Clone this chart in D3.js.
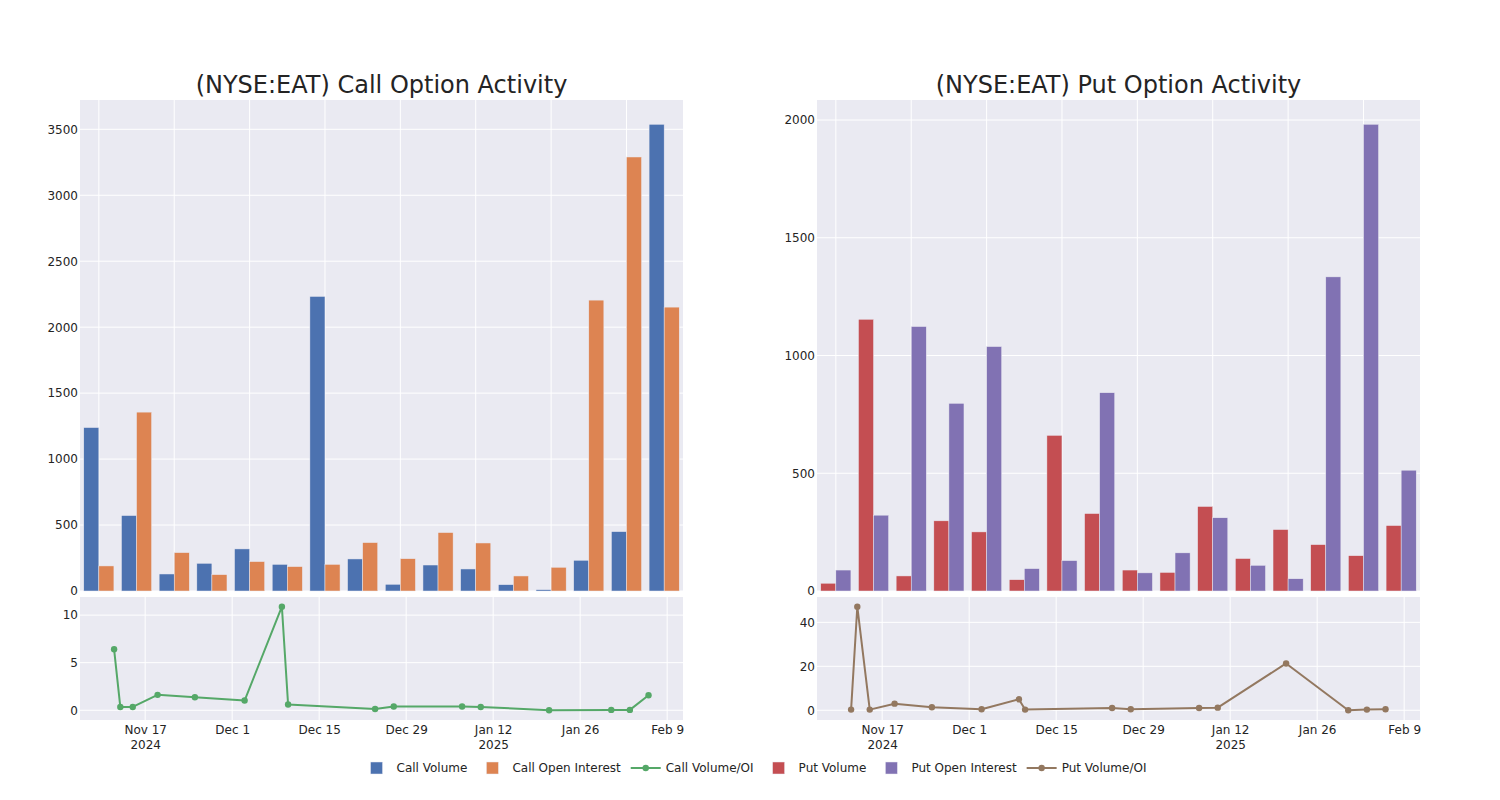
<!DOCTYPE html>
<html>
<head>
<meta charset="utf-8">
<script src="https://cdn.jsdelivr.net/npm/d3@7"></script>
<style>
  html, body { margin: 0; padding: 0; background: #fff; }
  text { font-family: "DejaVu Sans", sans-serif; fill: rgb(36,36,36); }
</style>
</head>
<body>
<svg id="chart" width="1500" height="800"></svg>
<script>
// ---- data ----
const dates = ["2024-11-12","2024-11-13","2024-11-15","2024-11-19","2024-11-25","2024-12-03","2024-12-09","2024-12-10",
               "2024-12-24","2024-12-27","2025-01-07","2025-01-10","2025-01-21","2025-01-31","2025-02-03","2025-02-06"];
const callVolume = [1239, 572, 129, 210, 319, 202, 2233, 243, 51, 197, 167, 48, 10, 233, 450, 3538];
const callOpenInterest = [190, 1356, 291, 124, 223, 185, 202, 367, 245, 443, 364, 114, 180, 2205, 3290, 2152];
const callVolOI = [6.41, 0.35, 0.35, 1.62, 1.37, 1.02, 10.88, 0.6, 0.14, 0.39, 0.39, 0.35, 0.0, 0.04, 0.04, 1.58];
const putVolume = [33, 1154, 64, 298, 251, 48, 661, 329, 89, 79, 359, 138, 261, 197, 150, 278];
const putOpenInterest = [89, 322, 1123, 797, 1038, 95, 129, 842, 77, 162, 311, 109, 52, 1334, 1982, 513];
const putVolOI = [0.3, 47.1, 0.3, 3.0, 1.4, 0.46, 5.0, 0.3, 1.06, 0.46, 1.06, 1.2, 21.3, 0.0, 0.3, 0.46];
const dateTicks = ["2024-11-17","2024-12-01","2024-12-15","2024-12-29","2025-01-12","2025-01-26","2025-02-09"];
const dateTickLabels = [["Nov 17","2024"],["Dec 1"],["Dec 15"],["Dec 29"],["Jan 12","2025"],["Jan 26"],["Feb 9"]];
const callBarTicks = [0, 500, 1000, 1500, 2000, 2500, 3000, 3500];
const putBarTicks = [0, 500, 1000, 1500, 2000];
const callLineTicks = [0, 5, 10];
const putLineTicks = [0, 20, 40];
const titles = ["(NYSE:EAT) Call Option Activity", "(NYSE:EAT) Put Option Activity"];
const legendNames = ["Call Volume","Call Open Interest","Call Volume/OI","Put Volume","Put Open Interest","Put Volume/OI"];

// ---- style ----
const C = {blue:"rgb(76,114,176)", orange:"rgb(221,132,82)", green:"rgb(85,168,104)",
           red:"rgb(196,78,82)", purple:"rgb(129,114,179)", brown:"rgb(147,120,96)",
           bg:"rgb(234,234,242)"};
const parse = d3.utcParse("%Y-%m-%d");
const svg = d3.select("#chart");
svg.append("rect").attr("width",1500).attr("height",800).attr("fill","#fff");

const barTop = 100, barBottom = 591, lineTop = 597, lineBottom = 720;

function panel(x0, x1, title, vol, oi, ratio, barTicks, lineTicks, cVol, cOI, cLine) {
  const g = svg.append("g");
  g.append("text").attr("x",(x0+x1)/2).attr("y",93).attr("text-anchor","middle")
    .style("font-size","24px").text(title);

  // ---- bar subplot ----
  g.append("rect").attr("x",x0).attr("y",barTop).attr("width",x1-x0).attr("height",barBottom-barTop).attr("fill",C.bg);
  const xb = d3.scaleBand().domain(dates).range([x0,x1]).padding(0);
  const xs = d3.scaleBand().domain(["v","o"]).range([0,xb.bandwidth()]).paddingInner(0).paddingOuter(0.25);
  const yb = d3.scaleLinear().domain([0, d3.max(vol.concat(oi))*1.052]).range([barBottom, barTop]);
  g.append("g").selectAll("line").data(dates.filter((d,i)=>i%2===0)).join("line")
    .attr("x1",d=>xb(d)+xb.bandwidth()/2).attr("x2",d=>xb(d)+xb.bandwidth()/2)
    .attr("y1",barTop).attr("y2",barBottom).attr("stroke","#fff").attr("stroke-width",1);
  g.append("g").selectAll("line").data(barTicks).join("line")
    .attr("x1",x0).attr("x2",x1).attr("y1",d=>yb(d)).attr("y2",d=>yb(d))
    .attr("stroke","#fff").attr("stroke-width",1);
  const ayb = d3.axisLeft(yb).tickValues(barTicks).tickFormat(d3.format("d")).tickSize(0).tickPadding(2);
  const gay = g.append("g").attr("transform",`translate(${x0},0)`).call(ayb);
  gay.select(".domain").remove();
  gay.selectAll("text").style("font-size","12px").attr("fill","rgb(36,36,36)").style("font-family","DejaVu Sans");
  g.append("g").selectAll("rect").data(dates).join("rect")
    .attr("x",d=>xb(d)+xs("v")).attr("width",xs.bandwidth())
    .attr("y",(d,i)=>yb(vol[i])).attr("height",(d,i)=>yb(0)-yb(vol[i]))
    .attr("fill",cVol).attr("stroke",C.bg).attr("stroke-width",0.5);
  g.append("g").selectAll("rect").data(dates).join("rect")
    .attr("x",d=>xb(d)+xs("o")).attr("width",xs.bandwidth())
    .attr("y",(d,i)=>yb(oi[i])).attr("height",(d,i)=>yb(0)-yb(oi[i]))
    .attr("fill",cOI).attr("stroke",C.bg).attr("stroke-width",0.5);

  // ---- line subplot ----
  g.append("rect").attr("x",x0).attr("y",lineTop).attr("width",x1-x0).attr("height",lineBottom-lineTop).attr("fill",C.bg);
  const pd = dates.map(parse);
  const [dmin, dmax] = d3.extent(pd);
  const span = dmax - dmin;
  const xl = d3.scaleUtc().domain([new Date(+dmin - span*0.0638), new Date(+dmax + span*0.0645)]).range([x0,x1]);
  const [rmin, rmax] = d3.extent(ratio);
  const rs = rmax - rmin;
  const yl = d3.scaleLinear().domain([rmin - rs*0.094, rmax + rs*0.094]).range([lineBottom, lineTop]);
  const tks = dateTicks.map(parse);
  g.append("g").selectAll("line").data(tks).join("line")
    .attr("x1",d=>xl(d)).attr("x2",d=>xl(d)).attr("y1",lineTop).attr("y2",lineBottom)
    .attr("stroke","#fff").attr("stroke-width",1);
  g.append("g").selectAll("line").data(lineTicks).join("line")
    .attr("x1",x0).attr("x2",x1).attr("y1",d=>yl(d)).attr("y2",d=>yl(d))
    .attr("stroke","#fff").attr("stroke-width",1);
  const ayl = d3.axisLeft(yl).tickValues(lineTicks).tickFormat(d3.format("d")).tickSize(0).tickPadding(2);
  const gayl = g.append("g").attr("transform",`translate(${x0},0)`).call(ayl);
  gayl.select(".domain").remove();
  gayl.selectAll("text").style("font-size","12px").attr("fill","rgb(36,36,36)").style("font-family","DejaVu Sans");
  const axl = d3.axisBottom(xl).tickValues(tks).tickSize(0).tickPadding(0).tickFormat("");
  const gax = g.append("g").attr("transform",`translate(0,${lineBottom})`).call(axl);
  gax.select(".domain").remove();
  gax.selectAll(".tick").each(function(d,i){
    const t = d3.select(this).append("text").attr("text-anchor","middle").style("font-size","12px");
    dateTickLabels[i].forEach((s,j)=>{
      t.append("tspan").attr("x",0).attr("y", 13.5 + j*15.5).text(s);
    });
  });
  const line = d3.line().x((d,i)=>xl(pd[i])).y(d=>yl(d));
  g.append("path").datum(ratio).attr("d",line).attr("fill","none").attr("stroke",cLine).attr("stroke-width",2)
    .attr("stroke-linejoin","round");
  g.append("g").selectAll("circle").data(ratio).join("circle")
    .attr("cx",(d,i)=>xl(pd[i])).attr("cy",d=>yl(d)).attr("r",3.2).attr("fill",cLine);
}

panel(80, 683, titles[0], callVolume, callOpenInterest, callVolOI, callBarTicks, callLineTicks, C.blue, C.orange, C.green);
panel(817, 1420, titles[1], putVolume, putOpenInterest, putVolOI, putBarTicks, putLineTicks, C.red, C.purple, C.brown);

// ---- legend ----
const legendColors = [C.blue, C.orange, C.green, C.red, C.purple, C.brown];
const legendKind = ["bar","bar","line","bar","bar","line"];
const lg = svg.append("g");
const items = lg.selectAll("g").data(legendNames).join("g");
items.append("text").attr("x",40).attr("y",4.3).style("font-size","12px").text(d=>d);
const widths = [];
items.each(function(){ widths.push(d3.select(this).select("text").node().getComputedTextLength()); });
const total = d3.sum(widths.map(w=>40+w)) + 5*(widths.length-1);
let xo = 751.5 - total/2;
items.each(function(d,i){
  const it = d3.select(this).attr("transform",`translate(${xo},768)`);
  if (legendKind[i]==="bar") {
    it.append("rect").attr("x",14).attr("y",-6).attr("width",12).attr("height",12)
      .attr("fill",legendColors[i]).attr("stroke",C.bg).attr("stroke-width",0.5);
  } else {
    it.append("line").attr("x1",5).attr("x2",35).attr("y1",0).attr("y2",0)
      .attr("stroke",legendColors[i]).attr("stroke-width",2);
    it.append("circle").attr("cx",20).attr("cy",0).attr("r",3.2).attr("fill",legendColors[i]);
  }
  xo += 40 + widths[i] + 5;
});
</script>
</body>
</html>
